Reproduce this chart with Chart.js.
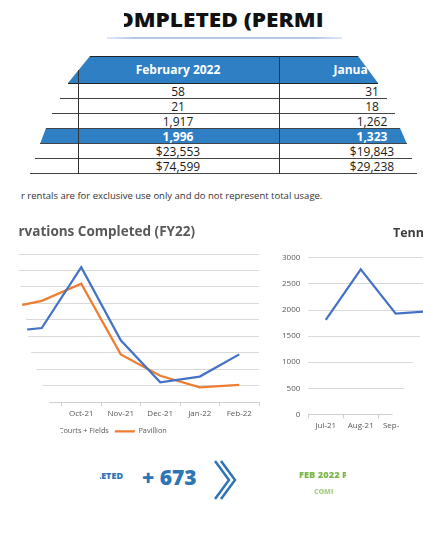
<!DOCTYPE html>
<html>
<head>
<meta charset="utf-8">
<script src="https://cdn.jsdelivr.net/npm/chart.js@4.4.1/dist/chart.umd.min.js"></script>
<style>
  html, body { margin: 0; padding: 0; width: 423px; height: 533px; overflow: hidden; background: #fff; font-family: "Open Sans", sans-serif; }
  .abs { position: absolute; }
  .clip { position: absolute; overflow: hidden; white-space: nowrap; }
  .hline { position: absolute; height: 1px; background: #444; }
  .vline { position: absolute; width: 1px; background: #333; }
  .cell { position: absolute; width: 200px; text-align: center; font-size: 12px; line-height: 15px; color: #1a1a1a; }
  /* the reference is a warped crop: its left edge bends, so the canvas is cut the same way */
  #resChart { position: absolute; left: -94px; top: 220px;
    clip-path: polygon(114px 0, 114px 30px, 112px 40px, 114px 60px, 116px 84px, 120px 100px, 122px 116px, 125px 132px, 130px 148px, 136px 165px, 142px 180px, 148px 192px, 152px 204px, 155px 212px, 155px 225px, 363px 225px, 363px 0); }
  #tennisChart { position: absolute; left: 262px; top: 245px;
    clip-path: polygon(0 0, 161px 0, 161px 85px, 158px 91px, 151px 118px, 142px 145px, 129px 173px, 137px 176px, 137px 191px, 0 191px); }
</style>
</head>
<body>

<!-- heading -->
<div class="clip" style="left:124px; top:6px; width:199px; height:28px;">
  <div class="abs" style="left:-23px; top:0; font-size:19.5px; font-weight:800; color:#111; transform:scaleX(1.16); transform-origin:0 0;">COMPLETED (PERMITS)</div>
</div>
<div class="abs" style="left:107px; top:37px; width:235px; height:2px; background:linear-gradient(to right, rgba(180,199,231,0.4), #b4c7e7 12%, #b4c7e7 88%, rgba(180,199,231,0.4));"></div>

<!-- table -->
<div id="table"></div>

<div class="abs" style="left:21px; top:189px; font-size:9.5px; color:#333; white-space:nowrap;">r rentals are for exclusive use only and do not represent total usage.</div>

<canvas id="resChart" width="363" height="225"></canvas>
<div class="clip" style="left:19px; top:223px; width:180px; height:20px;">
  <div class="abs" style="right:4px; top:-1px; font-size:13.5px; font-weight:bold; color:#595959;">Reservations Completed (FY22)</div>
</div>
<canvas id="tennisChart" width="326" height="191"></canvas>
<div class="clip" style="left:393px; top:224px; width:40px; height:20px;">
  <div class="abs" style="left:0; top:0; font-size:12.5px; font-weight:bold; color:#404040;">Tennis Reservations Completed (FY22)</div>
</div>

<!-- bottom summary -->
<div class="clip" style="left:100px; top:469px; width:26px; height:14px;">
  <div class="abs" style="right:3px; top:0; font-size:9px; font-weight:800; color:#2e75b6;">COMPLETED</div>
</div>
<div class="abs" style="left:142px; top:463px; font-size:21px; font-weight:800; color:#2e75b6; white-space:nowrap;">+ 673</div>
<svg class="abs" style="left:0; top:0;" width="423" height="533">
  <polyline points="215,461 229,480 215,499" fill="none" stroke="#2e75b6" stroke-width="2.5"/>
  <polyline points="221,461 235,480 221,499" fill="none" stroke="#2e75b6" stroke-width="2.5"/>
</svg>
<div class="clip" style="left:299px; top:468px; width:47px; height:14px;">
  <div class="abs" style="left:0; top:0; font-size:9.3px; font-weight:800; color:#7ab648;">FEB 2022 PERMITS</div>
</div>
<div class="clip" style="left:314px; top:487px; width:19px; height:12px;">
  <div class="abs" style="left:0; top:0; font-size:7px; font-weight:800; color:#a9d18e;">COMPLETED</div>
</div>

<script>
// table values
const tableHeaders = ['February 2022', 'January 2022'];
const febValues = ['58', '21', '1,917', '1,996', '$23,553', '$74,599'];
const janValues = ['31', '18', '1,262', '1,323', '$19,843', '$29,238'];

// chart values
const months = ['Jul-21', 'Aug-21', 'Sep-21', 'Oct-21', 'Nov-21', 'Dec-21', 'Jan-22', 'Feb-22'];
const courtsFields = [70, 85, 90, 164, 75, 24, 31, 58];
const pavillion = [98, 113, 123, 144, 58, 32, 18, 21];
const tennis = [1810, 2780, 1930, 1980, 1500, 1050, 1262, 1917];

const buildTable = () => {
  const t = document.getElementById('table');
  let html = '';
  // header band
  html += '<div class="abs" style="left:0;top:56px;width:423px;height:28px;background:#2f7fc4;' +
    'clip-path:polygon(90px 0,358px 0,378px 27px,68px 27px);"></div>';
  html += '<div class="hline" style="left:90px;top:56px;width:268px;background:#222;"></div>';
  html += '<div class="hline" style="left:68px;top:83px;width:310px;background:#222;"></div>';
  // total band
  html += '<div class="abs" style="left:0;top:128px;width:423px;height:16px;background:#2f7fc4;' +
    'clip-path:polygon(46px 0,400px 0,407px 16px,40px 16px);"></div>';
  const lines = [[98, 60, 387], [113, 52, 395], [128, 46, 400], [143, 40, 407], [158, 35, 412], [173, 30, 417]];
  lines.forEach(([y, x1, x2]) => {
    html += `<div class="hline" style="left:${x1}px;top:${y}px;width:${x2 - x1}px;"></div>`;
  });
  html += '<div class="vline" style="left:78px;top:70px;height:104px;"></div>';
  html += '<div class="vline" style="left:279px;top:56px;height:118px;"></div>';
  // header text, clipped by band edge
  html += '<div class="clip" style="left:0;top:56px;width:368px;height:27px;clip-path:polygon(90px 0,358px 0,378px 27px,68px 27px);">';
  html += `<div class="cell" style="left:78px;top:6px;color:#fff;font-weight:bold;">${tableHeaders[0]}</div>`;
  html += `<div class="cell" style="left:272px;top:6px;color:#fff;font-weight:bold;">${tableHeaders[1]}</div>`;
  html += '</div>';
  febValues.forEach((v, i) => {
    const top = 84 + i * 15;
    const style = i === 3 ? 'color:#fff;font-weight:bold;' : '';
    html += `<div class="cell" style="left:78px;top:${top}px;${style}">${v}</div>`;
    html += `<div class="cell" style="left:272px;top:${top}px;${style}">${janValues[i]}</div>`;
  });
  t.innerHTML = html;
};
buildTable();

const axisFont = { family: 'Open Sans', size: 8 };

new Chart(document.getElementById('resChart'), {
  type: 'line',
  data: {
    labels: months,
    datasets: [
      { label: 'Courts + Fields', data: courtsFields, borderColor: '#4472c4', backgroundColor: '#4472c4', borderWidth: 2.25, pointRadius: 0, tension: 0 },
      { label: 'Pavillion', data: pavillion, borderColor: '#ed7d31', backgroundColor: '#ed7d31', borderWidth: 2.25, pointRadius: 0, tension: 0 },
    ],
  },
  options: {
    responsive: false,
    animation: false,
    devicePixelRatio: 1,
    layout: { padding: { left: 37, right: 10, top: 34, bottom: 0 } },
    plugins: {
      title: { display: false },
      legend: {
        position: 'bottom',
        labels: {
          usePointStyle: true, pointStyle: 'line', pointStyleWidth: 20, boxHeight: 8,
          color: '#595959', font: { family: 'Open Sans', size: 7.3 }, padding: 6,
        },
      },
      tooltip: { enabled: false },
    },
    scales: {
      x: {
        offset: true,
        grid: { offset: true, drawOnChartArea: false, tickLength: 4, color: '#d0d0d0' },
        border: { color: '#d0d0d0' },
        ticks: { color: '#595959', font: axisFont, padding: 3, maxRotation: 0, autoSkip: false },
      },
      y: {
        min: 0, max: 180,
        ticks: { stepSize: 20, display: false },
        grid: { color: '#d9d9d9', drawTicks: false },
        border: { display: false },
      },
    },
  },
});

new Chart(document.getElementById('tennisChart'), {
  type: 'line',
  data: {
    labels: months,
    datasets: [
      { label: 'Tennis', data: tennis, borderColor: '#4472c4', borderWidth: 2.25, pointRadius: 0, tension: 0 },
    ],
  },
  options: {
    responsive: false,
    animation: false,
    devicePixelRatio: 1,
    layout: { padding: { left: 12, right: 0, top: 10, bottom: 2 } },
    plugins: { legend: { display: false }, title: { display: false }, tooltip: { enabled: false } },
    scales: {
      x: {
        offset: true,
        grid: { offset: true, drawOnChartArea: false, tickLength: 4, color: '#d0d0d0' },
        border: { color: '#d0d0d0' },
        ticks: { color: '#595959', font: axisFont, padding: 3, maxRotation: 0, autoSkip: false },
      },
      y: {
        min: 0, max: 3000,
        ticks: { stepSize: 500, color: '#595959', font: axisFont, padding: 8, callback: (v) => String(v) },
        grid: { color: '#d9d9d9', drawTicks: false },
        border: { display: false },
      },
    },
  },
});
</script>
</body>
</html>
